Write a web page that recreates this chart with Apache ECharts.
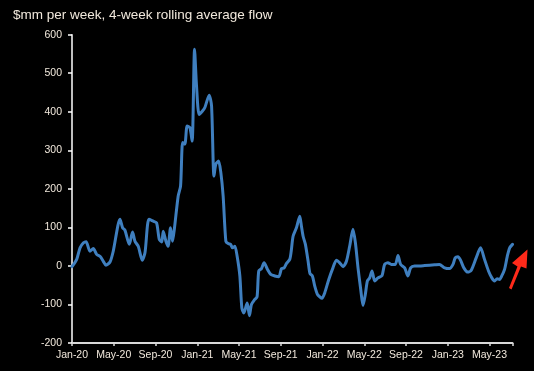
<!DOCTYPE html>
<html>
<head>
<meta charset="utf-8">
<script src="https://cdn.jsdelivr.net/npm/echarts@6/dist/echarts.min.js"></script>
<style>html,body{margin:0;padding:0;background:#000;}#c{width:534px;height:371px;}</style>
</head>
<body>
<div id="c"></div>
<script>
// months since Jan-2020
const monthIdx = [0.0,0.45,0.77,1.1,1.35,1.72,2.04,2.36,2.68,3.0,3.25,3.64,3.95,4.6,4.85,5.07,5.49,5.8,6.03,6.35,6.73,6.99,7.37,7.78,8.1,8.36,8.6,8.74,9.0,9.2,9.44,9.63,9.82,10.17,10.4,10.6,10.81,11.03,11.29,11.51,11.74,11.93,12.18,12.5,12.73,13.14,13.37,13.6,13.78,14.04,14.26,14.48,14.74,14.96,15.19,15.38,15.6,15.82,16.08,16.27,16.46,16.78,17.0,17.19,17.51,17.73,17.89,18.15,18.4,18.73,19.04,19.43,19.81,20.07,20.32,20.54,20.86,21.0,21.18,21.5,21.82,21.98,22.14,22.36,22.62,22.8,23.03,23.25,23.51,23.73,23.95,24.21,24.6,25.0,25.33,25.65,25.97,26.29,26.6,26.92,27.15,27.4,27.66,27.88,28.1,28.3,28.52,28.74,29.0,29.31,29.7,29.95,30.27,30.59,30.97,31.23,31.48,31.87,32.18,32.44,32.82,33.3,33.78,34.74,35.2,35.7,36.17,36.5,36.71,36.97,37.22,37.54,37.92,38.25,38.72,39.14,39.52,39.9,40.22,40.48,40.73,40.96,41.17,41.44,41.7,41.93,42.2];
const flow = [-2,17,47,60,63,38,45,30,25,12,2,10,38,121,99,93,56,88,64,51,15,34,121,116,112,69,62,90,64,51,99,64,99,181,207,320,316,363,359,324,562,467,393,402,411,443,415,233,264,272,242,181,64,58,56,47,51,25,-26,-109,-122,-96,-129,-100,-87,-80,-13,-7,8,-9,-22,-26,-28,-7,-5,6,17,38,77,99,129,103,77,56,12,-20,-26,-52,-74,-80,-84,-70,-35,-5,15,8,-2,12,51,95,60,-5,-61,-103,-74,-39,-31,-13,-39,-31,-25,4,8,4,4,27,4,-5,-26,-5,0,0,1,3,4,-5,-7,4,21,24,15,-5,-16,-11,21,47,17,-13,-31,-39,-33,-35,-26,-9,25,47,56];
const xTickLabels = ["Jan-20","May-20","Sep-20","Jan-21","May-21","Sep-21","Jan-22","May-22","Sep-22","Jan-23","May-23"];
const yTicks = [-200,-100,0,100,200,300,400,500,600];
const titleText = "$mm per week, 4-week rolling average flow";

const FONT = "'Liberation Sans',Arial,sans-serif";
const TXT = '#f1e8dc';
const xMax = monthIdx[monthIdx.length-1];

const chart = echarts.init(document.getElementById('c'), null, {renderer:'canvas'});
chart.setOption({
  backgroundColor:'#000000',
  animation:false,
  title:{text:titleText,left:8,top:3,textStyle:{color:TXT,fontFamily:FONT,fontSize:13.5,fontWeight:'normal'}},
  grid:{left:72,right:21.5,top:34.7,bottom:28,containLabel:false},
  xAxis:[{
    type:'value',min:0,max:xMax,interval:4,position:'bottom',
    axisLine:{show:false},axisTick:{show:false},splitLine:{show:false},
    axisLabel:{color:TXT,fontFamily:FONT,fontSize:10.5,margin:7,showMaxLabel:false,
      formatter:v=>{const i=Math.round(v/4);return (Math.abs(v-i*4)<1e-6 && i<xTickLabels.length)?xTickLabels[i]:'';}}
  },{
    type:'value',min:0,max:xMax,interval:4,position:'bottom',
    axisLine:{show:true,onZero:true,lineStyle:{color:'#d9d9d9',width:2}},
    axisTick:{show:true,inside:false,length:3,lineStyle:{color:'#d9d9d9',width:1.5}},
    axisLabel:{show:false},splitLine:{show:false}
  }],
  yAxis:{
    type:'value',min:yTicks[0],max:yTicks[yTicks.length-1],interval:100,
    axisLine:{show:true,onZero:false,lineStyle:{color:'#ffffff',width:1.5}},
    axisTick:{show:true,length:4,lineStyle:{color:'#ffffff',width:1.5}},
    splitLine:{show:false},
    axisLabel:{color:TXT,fontFamily:FONT,fontSize:10.5,margin:10}
  },
  series:[{
    type:'line',xAxisIndex:1,
    data:monthIdx.map((m,i)=>[m,flow[i]]),
    showSymbol:false,smooth:0.25,
    lineStyle:{color:'#3f7fbf',width:3,join:'round',cap:'round'},
    z:5
  }],
  graphic:[{
    type:'polygon',
    shape:{points:[[509,288],[517.5,266.5],[512,263],[527.5,249.5],[526.5,268.5],[521,266.5],[511.5,289.5]]},
    style:{fill:'#ff2a1a'},z:10
  }]
});
</script>
</body>
</html>
